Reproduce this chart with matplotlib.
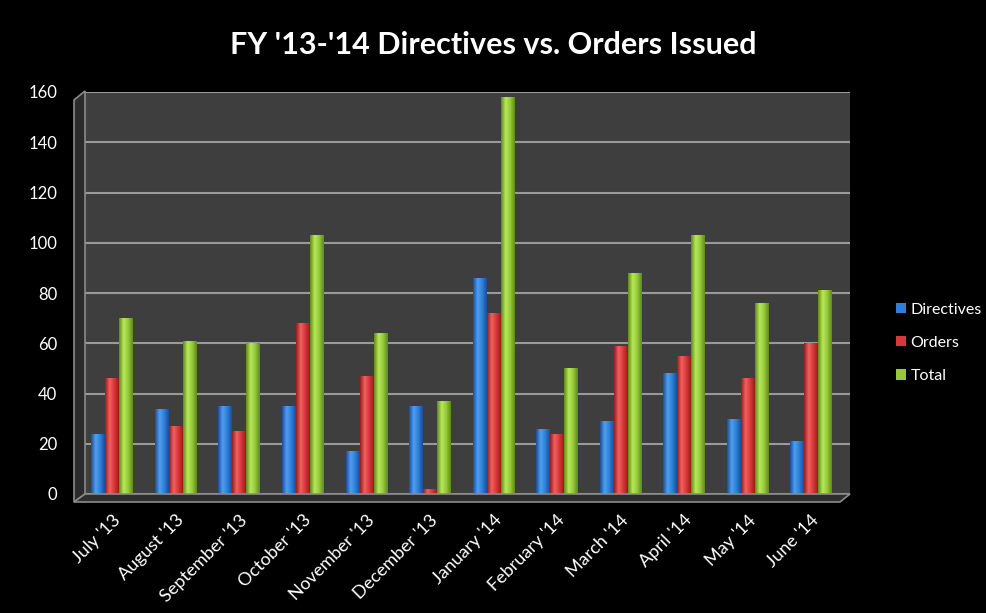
import numpy as np
import matplotlib.pyplot as plt
from matplotlib.colors import LinearSegmentedColormap
from matplotlib.patches import Polygon, Patch

# data
months = ["July '13", "August '13", "September '13", "October '13", "November '13", "December '13",
          "January '14", "February '14", "March '14", "April '14", "May '14", "June '14"]
directives = [24, 34, 35, 35, 17, 35, 86, 26, 29, 48, 30, 21]
orders = [46, 27, 25, 68, 47, 2, 72, 24, 59, 55, 46, 60]
total = [70, 61, 60, 103, 64, 37, 158, 50, 88, 103, 76, 81]
series = ["Directives", "Orders", "Total"]

plt.rcParams['font.family'] = ['Lato', 'DejaVu Sans']

W, H = 987, 613
fig = plt.figure(figsize=(W / 100, H / 100), dpi=100, facecolor='black')

def px(x, y):
    return (x / W, 1 - y / H)

# fake 3d walls
wall = Polygon([px(74, 100), px(85, 91), px(85, 494), px(74, 502)], closed=True,
               facecolor='#2b2b2b', edgecolor='#8a8a8a', lw=1.2, transform=fig.transFigure)
floor = Polygon([px(74, 502), px(85, 494), px(850, 494), px(840, 502)], closed=True,
                facecolor='#2e2e2e', edgecolor='#8a8a8a', lw=1.2, transform=fig.transFigure)
fig.patches.extend([wall, floor])

left, right, top, bottom = 85, 850, 92, 494
ax = fig.add_axes([left / W, 1 - bottom / H, (right - left) / W, (bottom - top) / H])
ax.set_facecolor('#3e3e3e')

# first group centre at x=112, last at x=811 (pixels)
step = (811 - 112) / 11
ax.set_xlim(-(112 - left) / step, 11 + (right - 811) / step)
ax.set_ylim(0, 160)
ax.set_yticks(range(0, 161, 20))
ax.yaxis.grid(True, color='#9a9a9a', lw=1.5)
ax.set_axisbelow(True)
for s in ax.spines.values():
    s.set_visible(False)
ax.tick_params(axis='y', length=0, colors='white', labelsize=12, pad=20)
ax.tick_params(axis='x', length=0, colors='white', labelsize=13, pad=13)

x = np.arange(len(months))
w = 0.22
cmaps = [
    LinearSegmentedColormap.from_list('b', ['#1a4f9a', '#4f9ff0', '#2f7fd8', '#1a4f9a']),
    LinearSegmentedColormap.from_list('r', ['#9a1c1c', '#f06060', '#d83838', '#9a1c1c']),
    LinearSegmentedColormap.from_list('g', ['#5f8a18', '#b8e858', '#96c83c', '#5f8a18']),
]
flat = ['#2f7fd8', '#d83838', '#96c83c']
grad = np.linspace(0, 1, 64).reshape(1, -1)

for i, vals in enumerate([directives, orders, total]):
    bars = ax.bar(x + (i - 1) * w, vals, width=w * 0.95, color=flat[i], zorder=2)
    for b in bars:
        bx, by = b.get_x(), b.get_y()
        im = ax.imshow(grad, cmap=cmaps[i], aspect='auto', zorder=3,
                       extent=(bx, bx + b.get_width(), by, by + b.get_height()))
        im.set_clip_path(b)

ax.set_xticks(x)
ax.set_xticklabels(months, rotation=45, ha='right', rotation_mode='anchor')

fig.text(0.5, 1 - 45 / H, "FY '13-'14 Directives vs. Orders Issued", color='white',
         fontsize=22, fontweight='bold', ha='center', va='center')

handles = [Patch(facecolor=c, edgecolor='none') for c in flat]
fig.legend(handles, series, loc='center left', bbox_to_anchor=px(882, 343), frameon=False,
           labelcolor='white', fontsize=11.5, handlelength=0.6, handleheight=0.6,
           handletextpad=0.3, labelspacing=1.2)

fig.savefig('out.png', dpi=100, facecolor='black')
